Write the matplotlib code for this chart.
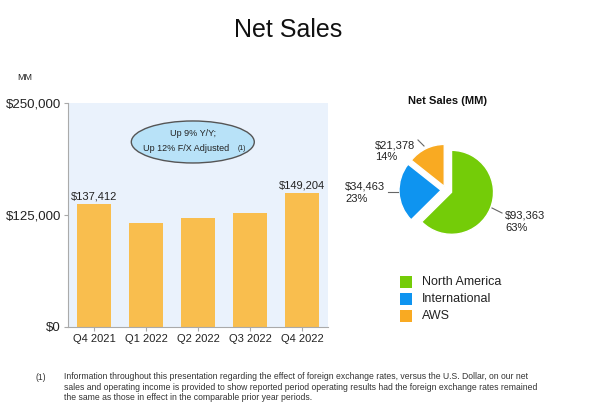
import matplotlib.pyplot as plt
from matplotlib.patches import Ellipse

plt.rcParams['font.family'] = ['Liberation Sans', 'DejaVu Sans']

# quarterly net sales, MM
quarters = ['Q4 2021', 'Q1 2022', 'Q2 2022', 'Q3 2022', 'Q4 2022']
net_sales = [137412, 116444, 121234, 127101, 149204]
yticks = [0, 125000, 250000]
ytick_labels = ['$0', '$125,000', '$250,000']

# Q4 2022 segment split
segments = ['North America', 'International', 'AWS']
seg_sales = [93363, 34463, 21378]
seg_pct = ['63%', '23%', '14%']
seg_colors = ['#74CC08', '#0E94F0', '#F9AA22']

footnote = ("Information throughout this presentation regarding the effect of foreign exchange rates, versus the U.S. Dollar, on our net\n"
            "sales and operating income is provided to show reported period operating results had the foreign exchange rates remained\n"
            "the same as those in effect in the comparable prior year periods.")

W, H = 590, 420
fig = plt.figure(figsize=(W / 100, H / 100), dpi=100)
fig.patch.set_facecolor('white')

def px(x0, y0, x1, y1):
    return [x0 / W, 1 - y1 / H, (x1 - x0) / W, (y1 - y0) / H]

fig.text(288 / W, 1 - 30 / H, 'Net Sales', ha='center', va='center', fontsize=18, color='#111111')

# bar chart
ax = fig.add_axes(px(68, 103, 328, 327))
ax.set_facecolor('#EAF2FC')
x = range(len(quarters))
ax.bar(x, net_sales, width=0.67, color='#F9BE4E', zorder=2)
ax.set_xlim(-0.5, len(quarters) - 0.5)
ax.set_ylim(0, 250000)
ax.set_xticks(list(x))
ax.set_xticklabels(quarters, fontsize=8, color='#222222')
ax.set_yticks(yticks)
ax.set_yticklabels(ytick_labels, fontsize=9.5, color='#222222')
ax.tick_params(axis='both', color='#AAAAAA', length=3, pad=2)
for s in ['top', 'right']:
    ax.spines[s].set_visible(False)
for s in ['left', 'bottom']:
    ax.spines[s].set_color('#AAAAAA')
for i in (0, len(quarters) - 1):
    ax.annotate(f'${net_sales[i]:,}', (i, net_sales[i]), xytext=(0, 2), textcoords='offset points',
                ha='center', va='bottom', fontsize=8, color='#222222')

ell = Ellipse((0.48, 0.826), 0.473, 0.1875, transform=ax.transAxes, facecolor='#B8E2F8',
              edgecolor='#555555', linewidth=1, zorder=3)
ax.add_patch(ell)
ax.text(0.48, 0.862, 'Up 9% Y/Y;', transform=ax.transAxes, ha='center', va='center',
        fontsize=6.5, color='#222222', zorder=4)
ax.text(0.455, 0.797, 'Up 12% F/X Adjusted', transform=ax.transAxes, ha='center', va='center',
        fontsize=6.5, color='#222222', zorder=4)
ax.text(0.67, 0.795, '(1)', transform=ax.transAxes, ha='center', va='center',
        fontsize=5, color='#222222', zorder=4)

fig.text(25 / W, 1 - 78 / H, 'MM', ha='center', va='center', fontsize=6.5, color='#222222')

# pie
fig.text(448 / W, 1 - 101 / H, 'Net Sales (MM)', ha='center', va='center', fontsize=8,
         fontweight='bold', color='#111111')
pax = fig.add_axes(px(346, 90, 546, 290))
pax.pie(seg_sales, colors=seg_colors, startangle=90, counterclock=False, radius=0.42,
        explode=(0.06, 0.05, 0.04), wedgeprops=dict(edgecolor='white', linewidth=1))
pax.set_xlim(-1, 1)
pax.set_ylim(-1, 1)
pax.axis('off')

# labels with short leader lines (pixel positions of the slide layout)
lbl_pos = [(505, 222), (345, 193), (375, 151)]
leaders = [((492, 208), (502, 213)), ((388, 192), (398, 192)), ((418, 140), (424, 146))]
for i in range(len(segments)):
    lx, ly = lbl_pos[i]
    fig.text(lx / W, 1 - ly / H, f'${seg_sales[i]:,}\n{seg_pct[i]}', ha='left', va='center',
             fontsize=8, color='#222222', linespacing=1.25)
    (a, b), (c, d) = leaders[i]
    fig.add_artist(plt.Line2D([a / W, c / W], [1 - b / H, 1 - d / H], color='#666666', linewidth=0.8))

# legend
leg_y = [282, 299, 316]
for i in range(len(segments)):
    fig.patches.append(plt.Rectangle((400 / W, 1 - (leg_y[i] + 6) / H), 12 / W, 12 / H,
                                     transform=fig.transFigure, facecolor=seg_colors[i], edgecolor='none'))
    fig.text(422 / W, 1 - leg_y[i] / H, segments[i], ha='left', va='center', fontsize=9, color='#222222')

# footnote
fig.text(35 / W, 1 - 378 / H, '(1)', ha='left', va='center', fontsize=6.2, color='#333333')
fig.text(64 / W, 1 - 372 / H, footnote, ha='left', va='top', fontsize=6.2, color='#333333',
         linespacing=1.25)

fig.savefig('out.png', dpi=100)
